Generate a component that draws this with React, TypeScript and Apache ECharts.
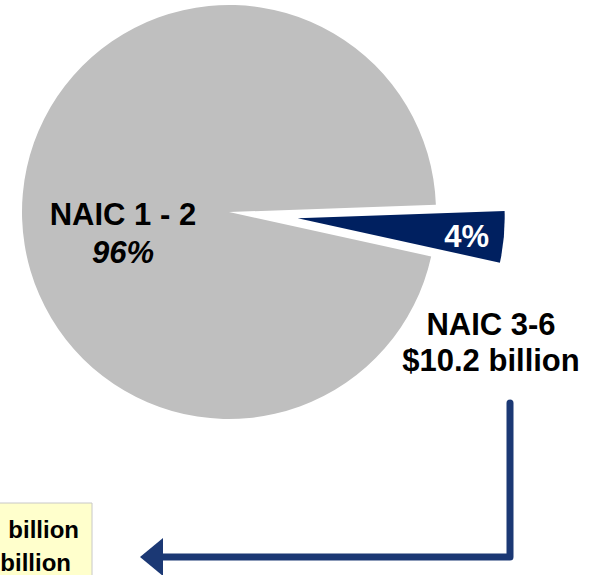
import React, { useEffect, useRef } from "react";
import * as echarts from "echarts";

const categories = ["NAIC 3-6", "NAIC 1 - 2"];
const shares = [4, 96];
const shareLabels = ["4%", "96%"];
const amountLabel = "$10.2 billion";
const boxLines = ["billion", "billion"];

const FONT = "'Liberation Sans', Arial, Helvetica, sans-serif";

export default function App() {
  const ref = useRef<HTMLDivElement>(null);
  useEffect(() => {
    if (!ref.current) return;
    const chart = echarts.init(ref.current, undefined, { renderer: "svg" });
    chart.setOption({
      animation: false,
      backgroundColor: "#ffffff",
      series: [
        {
          type: "pie",
          center: [229, 212],
          radius: [0, 207],
          startAngle: 2,
          clockwise: true,
          selectedMode: "single",
          selectedOffset: 69,
          silent: true,
          emphasis: { disabled: true },
          labelLine: { show: false },
          labelLayout: (p: any) =>
            p.dataIndex === 0 ? { dx: 63, dy: 9 } : { dx: 0, dy: 31 },
          data: [
            {
              name: categories[0],
              value: shares[0],
              selected: true,
              itemStyle: { color: "#002060" },
              label: {
                show: true,
                position: "inside",
                formatter: shareLabels[0],
                color: "#ffffff",
                fontFamily: FONT,
                fontWeight: "bold",
                fontSize: 31,
              },
            },
            {
              name: categories[1],
              value: shares[1],
              itemStyle: { color: "#BFBFBF" },
              label: {
                show: true,
                position: "inside",
                formatter: `{a|${categories[1]}}\n{b|${shareLabels[1]}}`,
                rich: {
                  a: {
                    fontFamily: FONT,
                    fontWeight: "bold",
                    fontSize: 31,
                    color: "#000000",
                    lineHeight: 38,
                    align: "center",
                  },
                  b: {
                    fontFamily: FONT,
                    fontWeight: "bold",
                    fontStyle: "italic",
                    fontSize: 31,
                    color: "#000000",
                    lineHeight: 38,
                    align: "center",
                  },
                },
              },
            },
          ],
        },
      ],
      graphic: [
        {
          type: "text",
          x: 491,
          y: 342,
          style: {
            text: `${categories[0]}\n${amountLabel}`,
            fill: "#000000",
            font: `bold 31px ${FONT}`,
            lineHeight: 36,
            align: "center",
            verticalAlign: "middle",
          },
        },
        {
          type: "polyline",
          shape: {
            points: [
              [510, 403],
              [510, 557],
              [158, 557],
            ],
          },
          style: { stroke: "#1B3874", lineWidth: 7, fill: null, lineJoin: "round", lineCap: "round" },
        },
        {
          type: "polygon",
          shape: {
            points: [
              [140, 557],
              [163, 538],
              [163, 576],
            ],
          },
          style: { fill: "#1B3874" },
        },
        {
          type: "rect",
          shape: { x: -10, y: 503, width: 102, height: 90 },
          style: { fill: "#FFFFCC", stroke: "#C8C8C8", lineWidth: 1 },
        },
        {
          type: "text",
          x: 79,
          y: 529,
          style: {
            text: boxLines[0],
            fill: "#000000",
            font: `bold 24px ${FONT}`,
            align: "right",
            verticalAlign: "middle",
          },
        },
        {
          type: "text",
          x: 71,
          y: 562,
          style: {
            text: boxLines[1],
            fill: "#000000",
            font: `bold 24px ${FONT}`,
            align: "right",
            verticalAlign: "middle",
          },
        },
      ],
    });
    return () => chart.dispose();
  }, []);
  return (
    <div
      ref={ref}
      style={{ position: "absolute", left: 0, top: 0, width: 601, height: 575 }}
    />
  );
}
